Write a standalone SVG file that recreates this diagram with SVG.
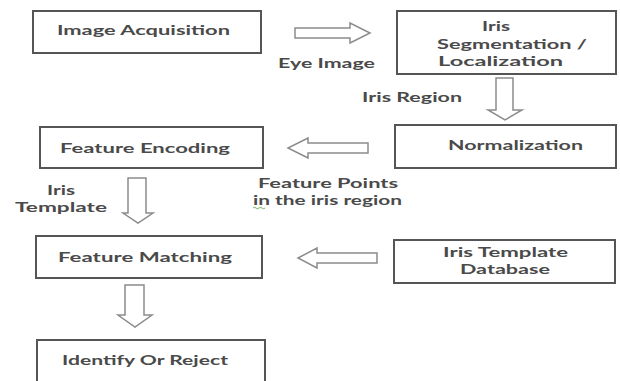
<svg xmlns="http://www.w3.org/2000/svg" width="620" height="381" viewBox="0 0 620 381">
<style>
.box{fill:#fff;stroke:#555;stroke-width:2}
.arr{fill:#fff;stroke:#8c8c8c;stroke-width:1.5;stroke-linejoin:miter}
text{font-family:Lato,"Open Sans","Liberation Sans",sans-serif;font-weight:700;font-size:14px;fill:#4a4a4a}
.c{text-anchor:middle}
</style>
<rect width="620" height="381" fill="#fff"/>
<g id="connectors">
<path class="arr" d="M295,28 H350 V23 L370,33 L350,43 V38 H295 Z"/>
<path class="arr" d="M496,78 H513 V110 H522 L505,120 L488,110 H496 Z"/>
<path class="arr" d="M368,143 H308 V138 L288,148 L308,158 V153 H368 Z"/>
<path class="arr" d="M128,178 H146 V213 H153 L138,223 L123,213 H128 Z"/>
<path class="arr" d="M377,253 H317 V248 L298,258 L317,268 V263 H377 Z"/>
<path class="arr" d="M125,285 H144 V315 H152 L135,327 L118,315 H125 Z"/>
<text class="c" x="326.5" y="68" textLength="97" lengthAdjust="spacingAndGlyphs">Eye Image</text>
<text class="c" x="412" y="102" textLength="100" lengthAdjust="spacingAndGlyphs">Iris Region</text>
<text class="c" x="328" y="188" textLength="140" lengthAdjust="spacingAndGlyphs">Feature Points</text>
<text class="c" x="327.5" y="205" textLength="149" lengthAdjust="spacingAndGlyphs">in the iris region</text>
<path d="M253,208 q1.5,-1.5 3,0 t3,0 t3,0 t3,0" fill="none" stroke="#6fae5a" stroke-width="1"/>
<text class="c" x="61" y="195" textLength="28" lengthAdjust="spacingAndGlyphs">Iris</text>
<text class="c" x="61" y="212" textLength="92" lengthAdjust="spacingAndGlyphs">Template</text>
</g>
<g id="image-acquisition">
<rect class="box" x="33" y="11" width="228" height="42"/>
<text class="c" x="143.5" y="35" textLength="173" lengthAdjust="spacingAndGlyphs">Image Acquisition</text>
</g>
<g id="iris-segmentation">
<rect class="box" x="397" y="11" width="219" height="63"/>
<text class="c" x="496" y="31" textLength="28" lengthAdjust="spacingAndGlyphs">Iris</text>
<text class="c" x="512" y="49" textLength="150" lengthAdjust="spacingAndGlyphs">Segmentation /</text>
<text class="c" x="500.5" y="66" textLength="125" lengthAdjust="spacingAndGlyphs">Localization</text>
</g>
<g id="normalization">
<rect class="box" x="395" y="125" width="221" height="43"/>
<text class="c" x="515.5" y="150" textLength="135" lengthAdjust="spacingAndGlyphs">Normalization</text>
</g>
<g id="feature-encoding">
<rect class="box" x="40" y="127" width="223" height="41"/>
<text class="c" x="145" y="153" textLength="170" lengthAdjust="spacingAndGlyphs">Feature Encoding</text>
</g>
<g id="feature-matching">
<rect class="box" x="36" y="236" width="226" height="42"/>
<text class="c" x="145" y="262" textLength="174" lengthAdjust="spacingAndGlyphs">Feature Matching</text>
</g>
<g id="iris-template-database">
<rect class="box" x="394" y="240" width="221" height="43"/>
<text class="c" x="505.5" y="257" textLength="125" lengthAdjust="spacingAndGlyphs">Iris Template</text>
<text class="c" x="505" y="274" textLength="90" lengthAdjust="spacingAndGlyphs">Database</text>
</g>
<g id="identify-or-reject">
<rect class="box" x="37" y="340" width="228" height="50"/>
<text class="c" x="145" y="365" textLength="166" lengthAdjust="spacingAndGlyphs">Identify Or Reject</text>
</g>
</svg>
